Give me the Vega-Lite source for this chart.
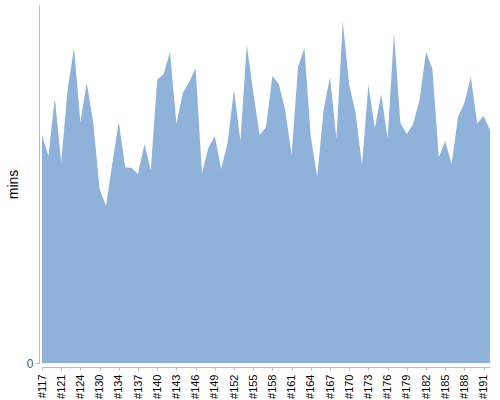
{
  "$schema": "https://vega.github.io/schema/vega-lite/v6.json",
  "width": 448,
  "height": 358,
  "autosize": "none",
  "padding": {"left": 42, "top": 5, "right": 10, "bottom": 37},
  "background": "white",
  "config": {
    "view": {"stroke": null},
    "font": "Liberation Sans"
  },
  "data": {
    "values": [
      {"build": "#117", "mins": 63.7},
      {"build": "#118", "mins": 57.8},
      {"build": "#119", "mins": 74.0},
      {"build": "#121", "mins": 56.1},
      {"build": "#122", "mins": 76.3},
      {"build": "#123", "mins": 88.0},
      {"build": "#124", "mins": 67.3},
      {"build": "#126", "mins": 78.2},
      {"build": "#128", "mins": 67.3},
      {"build": "#130", "mins": 48.6},
      {"build": "#131", "mins": 43.9},
      {"build": "#132", "mins": 55.9},
      {"build": "#134", "mins": 67.3},
      {"build": "#135", "mins": 54.7},
      {"build": "#136", "mins": 54.5},
      {"build": "#137", "mins": 52.8},
      {"build": "#138", "mins": 61.2},
      {"build": "#139", "mins": 53.9},
      {"build": "#140", "mins": 79.1},
      {"build": "#141", "mins": 80.7},
      {"build": "#142", "mins": 86.9},
      {"build": "#143", "mins": 66.8},
      {"build": "#144", "mins": 75.4},
      {"build": "#145", "mins": 78.5},
      {"build": "#146", "mins": 82.4},
      {"build": "#147", "mins": 53.1},
      {"build": "#148", "mins": 60.1},
      {"build": "#149", "mins": 63.4},
      {"build": "#150", "mins": 54.2},
      {"build": "#151", "mins": 61.5},
      {"build": "#152", "mins": 76.3},
      {"build": "#153", "mins": 62.0},
      {"build": "#154", "mins": 88.8},
      {"build": "#155", "mins": 75.7},
      {"build": "#156", "mins": 63.7},
      {"build": "#157", "mins": 65.9},
      {"build": "#158", "mins": 80.2},
      {"build": "#159", "mins": 77.9},
      {"build": "#160", "mins": 70.7},
      {"build": "#161", "mins": 58.1},
      {"build": "#162", "mins": 82.7},
      {"build": "#163", "mins": 88.0},
      {"build": "#164", "mins": 63.1},
      {"build": "#165", "mins": 52.0},
      {"build": "#166", "mins": 70.7},
      {"build": "#167", "mins": 79.9},
      {"build": "#168", "mins": 62.8},
      {"build": "#169", "mins": 95.3},
      {"build": "#170", "mins": 77.7},
      {"build": "#171", "mins": 69.8},
      {"build": "#172", "mins": 55.3},
      {"build": "#173", "mins": 77.7},
      {"build": "#174", "mins": 65.6},
      {"build": "#175", "mins": 75.1},
      {"build": "#176", "mins": 62.8},
      {"build": "#177", "mins": 92.2},
      {"build": "#178", "mins": 67.0},
      {"build": "#179", "mins": 64.0},
      {"build": "#180", "mins": 66.8},
      {"build": "#181", "mins": 73.5},
      {"build": "#182", "mins": 86.9},
      {"build": "#183", "mins": 82.1},
      {"build": "#184", "mins": 57.5},
      {"build": "#185", "mins": 62.0},
      {"build": "#186", "mins": 55.6},
      {"build": "#187", "mins": 68.7},
      {"build": "#188", "mins": 72.6},
      {"build": "#189", "mins": 79.9},
      {"build": "#190", "mins": 67.0},
      {"build": "#191", "mins": 69.0},
      {"build": "#192", "mins": 65.1}
    ]
  },
  "mark": {"type": "area", "color": "#8fb2da", "opacity": 1},
  "encoding": {
    "x": {
      "field": "build",
      "type": "ordinal",
      "sort": null,
      "scale": {"type": "point", "padding": 0},
      "axis": {
        "title": null,
        "offset": 4,
        "values": ["#117", "#121", "#124", "#130", "#134", "#137", "#140", "#143", "#146", "#149", "#152", "#155", "#158", "#161", "#164", "#167", "#170", "#173", "#176", "#179", "#182", "#185", "#188", "#191"],
        "labelAngle": -90,
        "labelAlign": "right",
        "labelBaseline": "middle",
        "labelFontSize": 11,
        "labelColor": "#000",
        "labelPadding": 4,
        "labelOverlap": false,
        "domainColor": "#bbbbbb",
        "tickColor": "#bbbbbb",
        "tickSize": 3
      }
    },
    "y": {
      "field": "mins",
      "type": "quantitative",
      "scale": {"domain": [0, 100], "nice": false},
      "axis": {
        "title": "mins",
        "titleFontSize": 14,
        "titleFontWeight": "normal",
        "titleColor": "#000",
        "titlePadding": 6,
        "values": [0],
        "offset": 3,
        "labelFontSize": 12,
        "labelColor": "#555",
        "domainColor": "#bbbbbb",
        "tickColor": "#bbbbbb",
        "tickSize": 4,
        "grid": false
      }
    }
  }
}
